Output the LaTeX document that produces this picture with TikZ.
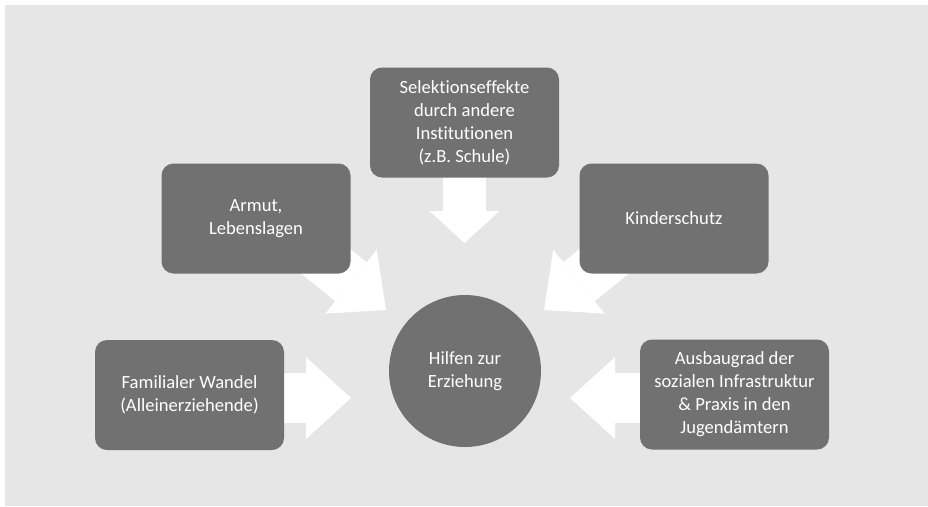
\documentclass[tikz,border=0pt]{standalone}
\usepackage{fontspec}
\setmainfont{Carlito}[Ligatures={NoCommon}]
\usetikzlibrary{arrows.meta,backgrounds}
\definecolor{bggray}{HTML}{E6E6E6}
\definecolor{boxgray}{HTML}{717171}
\begin{document}
\begin{tikzpicture}[x=1pt,y=-1pt,
  box/.style={fill=boxgray, rounded corners=12pt, minimum width=189pt, minimum height=110pt,
    text=white, align=center, font=\fontsize{18.6}{23}\selectfont, inner sep=0pt},
  hub/.style={circle, fill=boxgray, minimum size=152pt, inner sep=0pt,
    text=white, align=center, font=\fontsize{18.6}{23}\selectfont},
  bigarrow/.style={white, line width=50pt, -{Triangle[width=82pt,length=45pt,line width=0pt]}},
  smallarrow/.style={white, line width=43pt, -{Triangle[width=70pt,length=32pt,line width=0pt]}}]
\useasboundingbox (0,0) rectangle (928,506);
\node[box] (sel) at (464.5,122.5) {Selektionseffekte\\durch andere\\Institutionen\\(z.B. Schule)};
\node[box] (arm) at (256,218.5) {Armut,\\Lebenslagen};
\node[box] (kin) at (674,218.5) {Kinderschutz};
\node[box] (fam) at (189.5,395) {Familialer Wandel\\(Alleinerziehende)};
\node[box] (aus) at (734.5,394.5) {Ausbaugrad der\\sozialen Infrastruktur\\\& Praxis in den\\Jugendämtern};
\node[hub] (hze) at (465,371) {Hilfen zur\\Erziehung};
\begin{scope}[on background layer]
  \fill[white] (0,0) rectangle (928,506);
  \fill[bggray] (5,5) rectangle (928,506);
  \coordinate (t1) at (464.5,243);
  \coordinate (s2) at (308,247);
  \coordinate (t2) at (386,310);
  \coordinate (s3) at (622,247);
  \coordinate (t3) at (544,310);
  \coordinate (t4) at (351,398);
  \coordinate (t5) at (570,398);
  \draw[smallarrow] (sel.center) -- (t1);
  \draw[bigarrow] (s2) -- (t2);
  \draw[bigarrow] (s3) -- (t3);
  \draw[bigarrow] (fam.center |- t4) -- (t4);
  \draw[bigarrow] (aus.center |- t5) -- (t5);
\end{scope}
\end{tikzpicture}
\end{document}
